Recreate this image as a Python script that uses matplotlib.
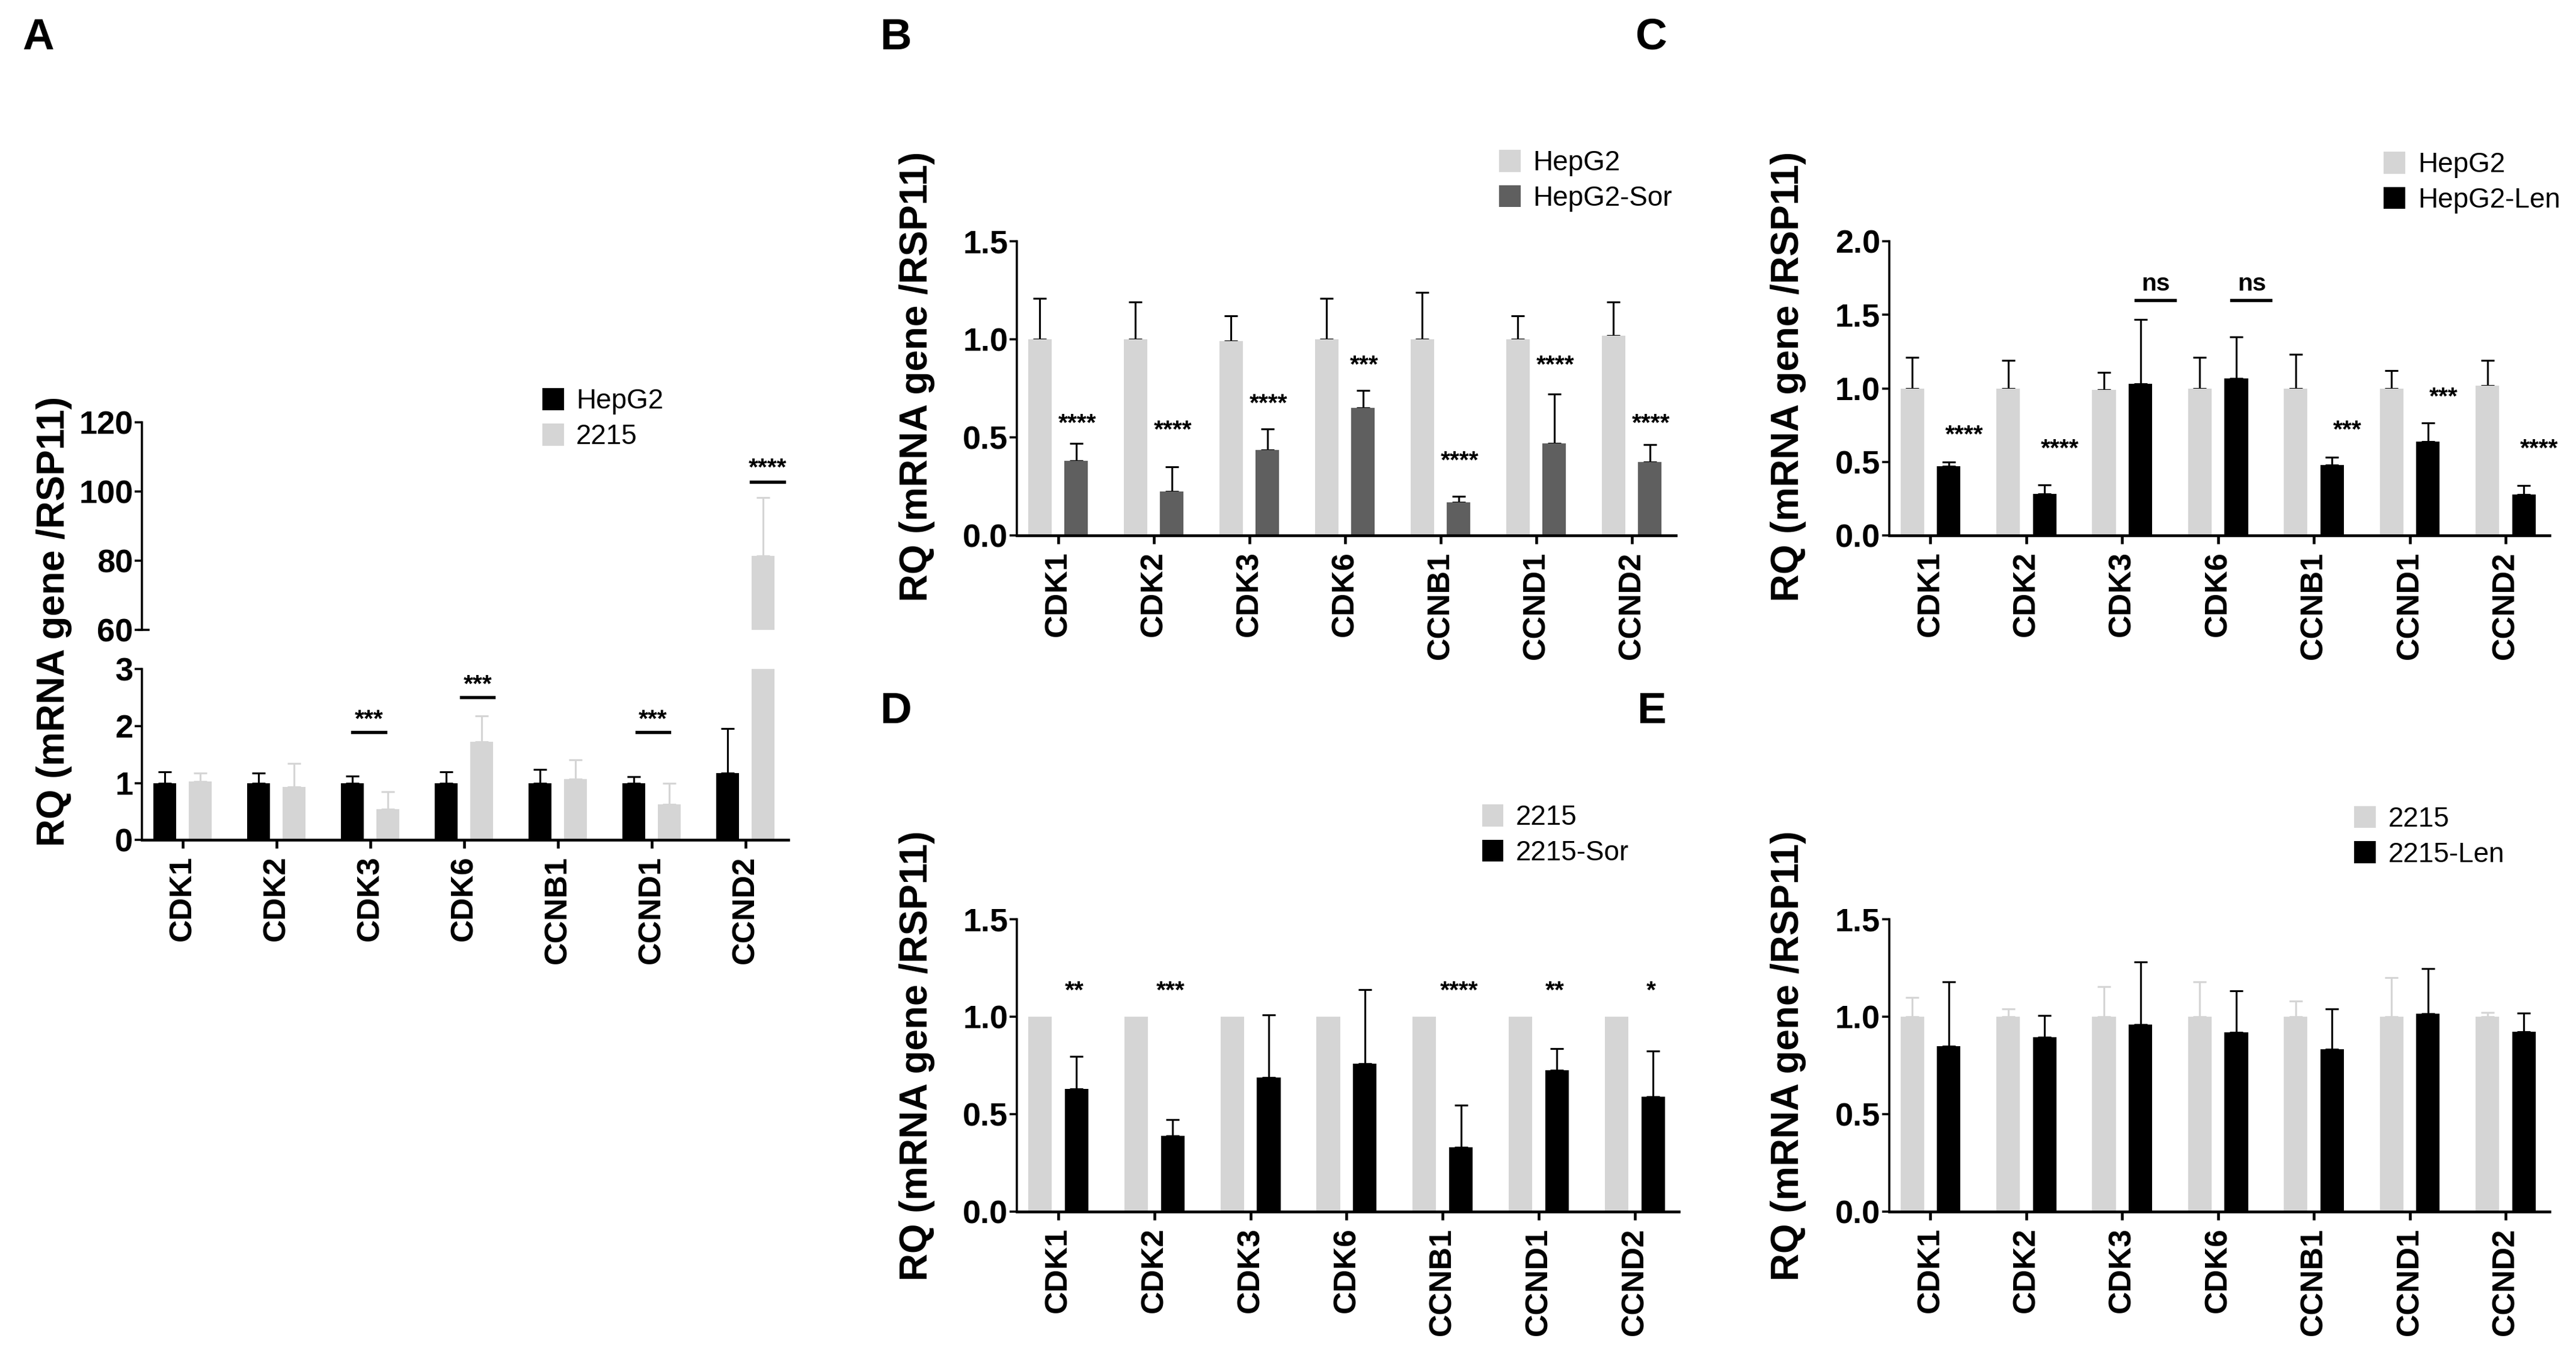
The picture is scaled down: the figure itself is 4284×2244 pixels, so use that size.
import numpy as np
import matplotlib.pyplot as plt
from matplotlib.patches import Patch
from matplotlib.transforms import blended_transform_factory

genes = ["CDK1", "CDK2", "CDK3", "CDK6", "CCNB1", "CCND1", "CCND2"]

# panel A: HepG2 vs 2215 (broken axis)
a_hepg2 = [1.0, 1.0, 1.0, 1.0, 1.0, 1.0, 1.18]
a_hepg2_err = [0.20, 0.18, 0.12, 0.20, 0.24, 0.11, 0.77]
a_2215 = [1.03, 0.93, 0.54, 1.72, 1.07, 0.63, 81.4]
a_2215_err = [0.14, 0.41, 0.31, 0.46, 0.34, 0.37, 16.9]
a_sig = ["", "", "***", "***", "", "***", "****"]

# panel B: HepG2 vs HepG2-Sor
b_hepg2 = [1.0, 1.0, 0.99, 1.0, 1.0, 1.0, 1.02]
b_hepg2_err = [0.21, 0.19, 0.13, 0.21, 0.24, 0.12, 0.17]
b_sor = [0.38, 0.225, 0.435, 0.65, 0.17, 0.47, 0.375]
b_sor_err = [0.09, 0.125, 0.11, 0.09, 0.03, 0.25, 0.09]
b_sig = ["****", "****", "****", "***", "****", "****", "****"]

# panel C: HepG2 vs HepG2-Len
c_hepg2 = [1.0, 1.0, 0.99, 1.0, 1.0, 1.0, 1.02]
c_hepg2_err = [0.21, 0.19, 0.12, 0.21, 0.23, 0.12, 0.17]
c_len = [0.47, 0.285, 1.03, 1.07, 0.48, 0.64, 0.28]
c_len_err = [0.03, 0.06, 0.44, 0.28, 0.055, 0.125, 0.06]
c_sig = ["****", "****", "ns", "ns", "***", "***", "****"]

# panel D: 2215 vs 2215-Sor
d_2215 = [1.0, 1.0, 1.0, 1.0, 1.0, 1.0, 1.0]
d_sor = [0.63, 0.39, 0.69, 0.76, 0.33, 0.727, 0.59]
d_sor_err = [0.167, 0.083, 0.32, 0.38, 0.217, 0.11, 0.234]
d_sig = ["**", "***", "", "", "****", "**", "*"]

# panel E: 2215 vs 2215-Len
e_2215 = [1.0, 1.0, 1.0, 1.0, 1.0, 1.0, 1.0]
e_2215_err = [0.098, 0.04, 0.154, 0.18, 0.08, 0.20, 0.023]
e_len = [0.85, 0.894, 0.959, 0.92, 0.834, 1.016, 0.924]
e_len_err = [0.33, 0.114, 0.321, 0.213, 0.206, 0.23, 0.096]

LIGHT = "#d5d5d5"
DARK = "#5f5f5f"
BLACK = "#000000"
ARIAL = ["Liberation Sans", "DejaVu Sans"]

X = np.arange(len(genes))
OFF1, OFF2, W = -0.19, 0.19, 0.245

fig = plt.figure(figsize=(14.28, 7.48), dpi=300)


def bars(ax, v1, e1, c1, ec1, v2, e2, c2, ec2):
    ax.bar(X + OFF1, v1, W, color=c1, zorder=2)
    ax.bar(X + OFF2, v2, W, color=c2, zorder=2)
    if e1 is not None:
        ax.errorbar(X + OFF1, v1, yerr=[np.zeros(len(v1)), e1], fmt="none",
                    ecolor=ec1, elinewidth=0.75, capsize=2.6, capthick=0.75, zorder=1)
    ax.errorbar(X + OFF2, v2, yerr=[np.zeros(len(v2)), e2], fmt="none",
                ecolor=ec2, elinewidth=0.75, capsize=2.6, capthick=0.75, zorder=1)


def style(ax, ylim, yticks, labels, xaxis=True):
    for s in ["top", "right"]:
        ax.spines[s].set_visible(False)
    ax.spines["left"].set_linewidth(0.85)
    ax.spines["bottom"].set_linewidth(1.1)
    ax.set_xlim(-0.43, 6.46)
    ax.set_ylim(*ylim)
    ax.set_yticks(yticks)
    ax.set_yticklabels(labels, family=ARIAL, fontweight="bold", fontsize=13)
    ax.tick_params(axis="y", length=2.8, width=0.85, pad=0.8)
    if xaxis:
        ax.set_xticks(X)
        ax.set_xticklabels(genes, rotation=90, family=ARIAL, fontweight="bold", fontsize=12.5)
        ax.tick_params(axis="x", length=3.4, width=1.1, pad=2.8)
    else:
        ax.spines["bottom"].set_visible(False)
        ax.set_xticks([])


def legend(labels, colors, x, y):
    handles = [Patch(facecolor=c, edgecolor="none") for c in colors]
    fig.legend(handles, labels, loc="upper left", bbox_to_anchor=(x, y),
               frameon=False, prop={"family": ARIAL, "size": 11},
               handlelength=0.78, handleheight=0.85, handletextpad=0.45,
               labelspacing=0.32, borderpad=0, borderaxespad=0)


def ylabel(x, y):
    fig.text(x, y, "RQ (mRNA gene /RSP11)", rotation=90, ha="center", va="center",
             family=ARIAL, fontweight="bold", fontsize=15.3)


def stars(ax, sig, ys, offset):
    for i, s in enumerate(sig):
        if s:
            ax.text(X[i] + offset, ys[i], s, ha="center", va="center",
                    family=ARIAL, fontweight="bold", fontsize=9.8)


# ---- A ----
axA = fig.add_axes([0.0552, 0.3777, 0.2509, 0.1268])
axA2 = fig.add_axes([0.0552, 0.5335, 0.2509, 0.1535])
for ax in (axA, axA2):
    bars(ax, a_hepg2, a_hepg2_err, BLACK, BLACK, a_2215, a_2215_err, LIGHT, LIGHT)
style(axA, (0, 3), [0, 1, 2, 3], ["0", "1", "2", "3"])
style(axA2, (60, 120), [60, 80, 100, 120], ["60", "80", "100", "120"], xaxis=False)
# little break cap at the bottom of the upper segment
tr = blended_transform_factory(axA2.transAxes, axA2.transData)
axA2.plot([-0.005, 0.0095], [60, 60], color=BLACK, lw=0.85, transform=tr, clip_on=False)
a_line_y = [None, None, 1.89, 2.5, None, 1.89, 102.9]
a_line_x0 = [0, 0, -0.19, -0.03, 0, -0.16, 0.06]
for i, s in enumerate(a_sig):
    if not s:
        continue
    ax = axA2 if a_line_y[i] > 3 else axA
    x0 = X[i] + a_line_x0[i]
    ax.plot([x0, x0 + 0.35], [a_line_y[i]] * 2, color=BLACK, lw=1.3, clip_on=False)
    dy = 3.8 if ax is axA2 else 0.22
    ax.text(x0 + 0.175, a_line_y[i] + dy, s, ha="center", va="center",
            family=ARIAL, fontweight="bold", fontsize=9.8, clip_on=False)
legend(["HepG2", "2215"], [BLACK, LIGHT], 0.2105, 0.7125)
ylabel(0.0209, 0.5396)

# ---- B ----
axB = fig.add_axes([0.3948, 0.6032, 0.2557, 0.2181])
bars(axB, b_hepg2, b_hepg2_err, LIGHT, BLACK, b_sor, b_sor_err, DARK, BLACK)
style(axB, (0, 1.5), [0, 0.5, 1.0, 1.5], ["0.0", "0.5", "1.0", "1.5"])
stars(axB, b_sig, [0.57, 0.536, 0.67, 0.865, 0.378, 0.865, 0.57], 0.2)
legend(["HepG2", "HepG2-Sor"], [LIGHT, DARK], 0.582, 0.889)
ylabel(0.3559, 0.7211)

# ---- C ----
axC = fig.add_axes([0.7334, 0.6032, 0.2564, 0.2181])
bars(axC, c_hepg2, c_hepg2_err, LIGHT, BLACK, c_len, c_len_err, BLACK, BLACK)
style(axC, (0, 2.0), [0, 0.5, 1.0, 1.5, 2.0], ["0.0", "0.5", "1.0", "1.5", "2.0"])
c_y = [0.68, 0.586, 1.71, 1.71, 0.715, 0.94, 0.586]
stars(axC, c_sig, c_y, 0.35)
for i, s in enumerate(c_sig):
    if s == "ns":
        axC.plot([X[i] + 0.14, X[i] + 0.55], [1.6, 1.6], color=BLACK, lw=1.3)
legend(["HepG2", "HepG2-Len"], [LIGHT, BLACK], 0.9254, 0.8877)
ylabel(0.6941, 0.7211)

# ---- D ----
axD = fig.add_axes([0.3948, 0.1023, 0.257, 0.2168])
bars(axD, d_2215, None, LIGHT, LIGHT, d_sor, d_sor_err, BLACK, BLACK)
style(axD, (0, 1.5), [0, 0.5, 1.0, 1.5], ["0.0", "0.5", "1.0", "1.5"])
stars(axD, d_sig, [1.13] * 7, 0.17)
legend(["2215", "2215-Sor"], [LIGHT, BLACK], 0.5753, 0.4042)
ylabel(0.3559, 0.218)

# ---- E ----
axE = fig.add_axes([0.7334, 0.1023, 0.2564, 0.2168])
bars(axE, e_2215, e_2215_err, LIGHT, LIGHT, e_len, e_len_err, BLACK, BLACK)
style(axE, (0, 1.5), [0, 0.5, 1.0, 1.5], ["0.0", "0.5", "1.0", "1.5"])
legend(["2215", "2215-Len"], [LIGHT, BLACK], 0.9139, 0.403)
ylabel(0.6941, 0.218)

for letter, x, y in [("A", 0.0148, 0.972), ("B", 0.3476, 0.972), ("C", 0.641, 0.972),
                     ("D", 0.3476, 0.4728), ("E", 0.641, 0.4728)]:
    fig.text(x, y, letter, ha="center", va="center", family=ARIAL,
             fontweight="bold", fontsize=17.5)

fig.savefig("out.png", dpi=300)
